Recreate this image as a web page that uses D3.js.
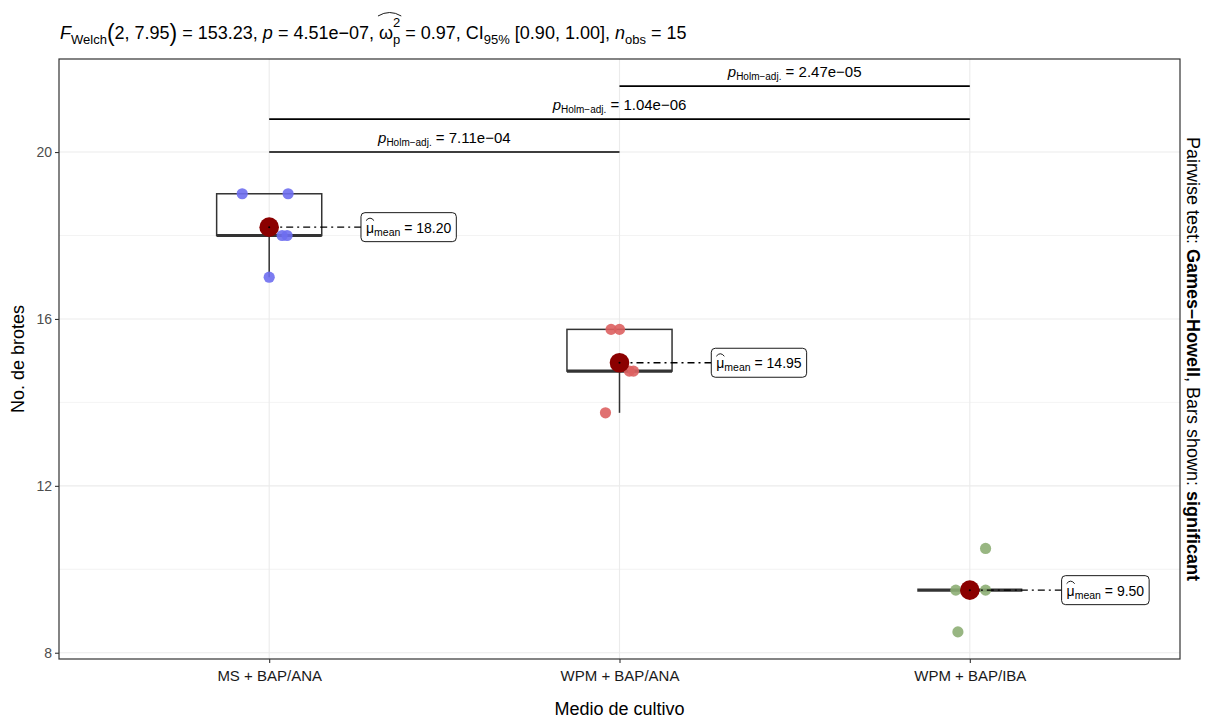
<!DOCTYPE html>
<html>
<head>
<meta charset="utf-8">
<script src="https://cdn.jsdelivr.net/npm/d3@7"></script>
<style>
  html, body { margin: 0; padding: 0; background: #fff; }
  svg text { font-family: "Liberation Sans", Arial, Helvetica, sans-serif; white-space: pre; }
</style>
</head>
<body>
<svg id="chart" width="1212" height="719"></svg>
<script>
// Shoot counts per culture medium (5 explants each)
const categories = ["MS + BAP/ANA", "WPM + BAP/ANA", "WPM + BAP/IBA"];
const msBapAna = [19, 19, 18, 18, 17];
const wpmBapAna = [15.75, 15.75, 14.75, 14.75, 13.75];
const wpmBapIba = [10.5, 9.5, 9.5, 9.5, 8.5];
const seriesValues = [msBapAna, wpmBapAna, wpmBapIba];
// horizontal jitter of each observation, as a fraction of the category step
const jitter = [
  [-0.077, 0.054, 0.037, 0.051, 0.0],
  [-0.024, 0.0, 0.028, 0.040, -0.040],
  [0.045, -0.040, 0.0, 0.045, -0.034]
];
const pointColors = ["#6E6EF0", "#DD6060", "#8DAE74"];
const yTicks = [8, 12, 16, 20];
const yMinor = [10, 14, 18];
// Games-Howell pairwise comparisons (Holm adjusted)
const pairFrom = [0, 0, 1];
const pairTo = [1, 2, 2];
const pairP = ["7.11e\u221204", "1.04e\u221206", "2.47e\u221205"];

const svg = d3.select("#chart");
const panel = { left: 59, right: 1180, top: 59, bottom: 659 };

const x = d3.scalePoint().domain(categories).range([panel.left, panel.right]).padding(0.6);
const y = d3.scaleLinear().domain([7.85, 22.23]).range([panel.bottom, panel.top]);
const step = x.step();

// rich text: sequence of runs with size / style / baseline shift
function rich(g, parts, baseSize) {
  let cx = 0;
  parts.forEach(p => {
    if (p.stack) {
      let mw = 0;
      p.stack.forEach(s => {
        const t = g.append("text").attr("x", cx).attr("y", s.dy || 0)
          .attr("font-size", s.size || baseSize).text(s.t);
        mw = Math.max(mw, t.node().getComputedTextLength());
      });
      p._x = cx; p._w = mw;
      cx += mw;
      return;
    }
    const t = g.append("text").attr("x", cx).attr("y", p.dy || 0)
      .attr("font-size", p.size || baseSize)
      .attr("font-style", p.italic ? "italic" : null)
      .attr("font-weight", p.bold ? "bold" : null)
      .text(p.t);
    const w = t.node().getComputedTextLength();
    p._x = cx; p._w = w;
    cx += w;
  });
  return cx;
}
function hat(g, x0, x1, yBase, h) {
  g.append("path")
    .attr("d", `M${x0},${yBase} Q${(x0 + x1) / 2},${yBase - 2 * h} ${x1},${yBase}`)
    .attr("fill", "none").attr("stroke", "#000").attr("stroke-width", 0.9);
}

// panel grid
const grid = svg.append("g");
grid.selectAll(".minor").data(yMinor).join("line")
  .attr("x1", panel.left).attr("x2", panel.right)
  .attr("y1", d => y(d)).attr("y2", d => y(d))
  .attr("stroke", "#EBEBEB").attr("stroke-width", 0.6);
grid.selectAll(".major").data(yTicks).join("line")
  .attr("x1", panel.left).attr("x2", panel.right)
  .attr("y1", d => y(d)).attr("y2", d => y(d))
  .attr("stroke", "#EBEBEB").attr("stroke-width", 1.1);
grid.selectAll(".vmajor").data(categories).join("line")
  .attr("x1", d => x(d)).attr("x2", d => x(d))
  .attr("y1", panel.top).attr("y2", panel.bottom)
  .attr("stroke", "#EBEBEB").attr("stroke-width", 1.1);

// boxplots
const boxW = 0.3 * step;
categories.forEach((c, i) => {
  const v = seriesValues[i].slice().sort(d3.ascending);
  const q1 = d3.quantile(v, 0.25), med = d3.quantile(v, 0.5), q3 = d3.quantile(v, 0.75);
  const iqr = q3 - q1;
  const lo = d3.min(v.filter(d => d >= q1 - 1.5 * iqr));
  const hi = d3.max(v.filter(d => d <= q3 + 1.5 * iqr));
  const g = svg.append("g");
  const cx = x(c);
  g.append("line").attr("x1", cx).attr("x2", cx).attr("y1", y(q1)).attr("y2", y(lo))
    .attr("stroke", "#333").attr("stroke-width", 1.5);
  g.append("line").attr("x1", cx).attr("x2", cx).attr("y1", y(q3)).attr("y2", y(hi))
    .attr("stroke", "#333").attr("stroke-width", 1.5);
  g.append("rect").attr("x", cx - boxW / 2).attr("y", y(q3))
    .attr("width", boxW).attr("height", Math.max(0, y(q1) - y(q3)))
    .attr("fill", "none").attr("stroke", "#333").attr("stroke-width", 1.5);
  g.append("line").attr("x1", cx - boxW / 2).attr("x2", cx + boxW / 2)
    .attr("y1", y(med)).attr("y2", y(med))
    .attr("stroke", "#333").attr("stroke-width", 3.2);
});

// observations
categories.forEach((c, i) => {
  svg.append("g").selectAll("circle").data(seriesValues[i]).join("circle")
    .attr("cx", (d, j) => x(c) + jitter[i][j] * step)
    .attr("cy", d => y(d))
    .attr("r", 5.6)
    .attr("fill", pointColors[i]).attr("fill-opacity", 0.9);
});

// means with labels
categories.forEach((c, i) => {
  const m = d3.mean(seriesValues[i]);
  const cx = x(c), cy = y(m);
  const lx = cx + 0.262 * step;
  svg.append("line").attr("x1", cx).attr("x2", lx).attr("y1", cy).attr("y2", cy)
    .attr("stroke", "#000").attr("stroke-width", 1.3).attr("stroke-dasharray", "7,4,2,4");
  svg.append("circle").attr("cx", cx).attr("cy", cy).attr("r", 9.8).attr("fill", "#8B0000");
  svg.append("circle").attr("cx", cx).attr("cy", cy).attr("r", 1).attr("fill", "#000");
  const g = svg.append("g");
  const parts = [{ t: "\u03BC" }, { t: "mean", size: 10.5, dy: 3 }, { t: " = " + m.toFixed(2) }];
  const tg = g.append("g");
  const w = rich(tg, parts, 14);
  const padX = 5, hgt = 29;
  g.insert("rect", ":first-child").attr("x", 0).attr("y", -hgt / 2).attr("width", w + 2 * padX).attr("height", hgt)
    .attr("rx", 4).attr("fill", "#fff").attr("stroke", "#000").attr("stroke-width", 0.9);
  tg.attr("transform", `translate(${padX},${5.5})`);
  hat(tg, parts[0]._x, parts[0]._x + parts[0]._w, -12, 2.5);
  g.attr("transform", `translate(${lx},${cy})`);
});

// significance bars
pairP.forEach((p, k) => {
  const yy = y(20 + k * 0.79);
  const x0 = x(categories[pairFrom[k]]), x1 = x(categories[pairTo[k]]);
  svg.append("line").attr("x1", x0).attr("x2", x1).attr("y1", yy).attr("y2", yy)
    .attr("stroke", "#000").attr("stroke-width", 1.6);
  const g = svg.append("g");
  const w = rich(g, [{ t: "p", italic: true }, { t: "Holm\u2212adj.", size: 10, dy: 3 }, { t: " = " + p }], 15);
  g.attr("transform", `translate(${(x0 + x1) / 2 - w / 2},${yy - 9})`);
});

// panel border
svg.append("rect").attr("x", panel.left).attr("y", panel.top)
  .attr("width", panel.right - panel.left).attr("height", panel.bottom - panel.top)
  .attr("fill", "none").attr("stroke", "#333").attr("stroke-width", 1.2);

// axes
const yAxis = svg.append("g").attr("transform", `translate(${panel.left},0)`)
  .call(d3.axisLeft(y).tickValues(yTicks).tickSize(4).tickPadding(3));
yAxis.select(".domain").remove();
yAxis.selectAll("line").attr("stroke", "#333").attr("stroke-width", 1.1);
yAxis.selectAll("text").attr("font-size", 14).attr("fill", "#4D4D4D")
  .attr("font-family", null);

const xAxis = svg.append("g").attr("transform", `translate(0,${panel.bottom})`)
  .call(d3.axisBottom(x).tickSize(4).tickPadding(7));
xAxis.select(".domain").remove();
xAxis.selectAll("line").attr("stroke", "#333").attr("stroke-width", 1.1);
xAxis.selectAll("text").attr("font-size", 15).attr("fill", "#1A1A1A")
  .attr("font-family", null);

// axis titles
svg.append("text").attr("x", (panel.left + panel.right) / 2).attr("y", 715)
  .attr("text-anchor", "middle").attr("font-size", 18).text("Medio de cultivo");
svg.append("text").attr("transform", `translate(24,${(panel.top + panel.bottom) / 2}) rotate(-90)`)
  .attr("text-anchor", "middle").attr("font-size", 18).text("No. de brotes");

// subtitle with test statistics
const tg = svg.append("g");
const titleParts = [
  { t: "F", italic: true },
  { t: "Welch", size: 13, dy: 5 },
  { t: "(", size: 23, dy: 2 },
  { t: "2, 7.95" },
  { t: ")", size: 23, dy: 2 },
  { t: " = 153.23, " },
  { t: "p", italic: true },
  { t: " = 4.51e\u221207, " },
  { t: "\u03C9" },
  { stack: [{ t: "2", size: 13, dy: -12 }, { t: "p", size: 13, dy: 5 }] },
  { t: " = 0.97, CI" },
  { t: "95%", size: 13, dy: 5 },
  { t: " [0.90, 1.00], " },
  { t: "n", italic: true },
  { t: "obs", size: 13, dy: 5 },
  { t: " = 15" }
];
rich(tg, titleParts, 18);
hat(tg, titleParts[8]._x - 1, titleParts[9]._x + titleParts[9]._w + 1, -23, 3.5);
tg.attr("transform", "translate(60,39)");

// caption on the right
const cg = svg.append("g");
const cw = rich(cg, [
  { t: "Pairwise test: " },
  { t: "Games\u2013Howell", bold: true },
  { t: ", Bars shown: " },
  { t: "significant", bold: true }
], 18);
cg.attr("transform", `translate(1187,${(panel.top + panel.bottom) / 2}) rotate(90) translate(${-cw / 2},0)`);
</script>
</body>
</html>
